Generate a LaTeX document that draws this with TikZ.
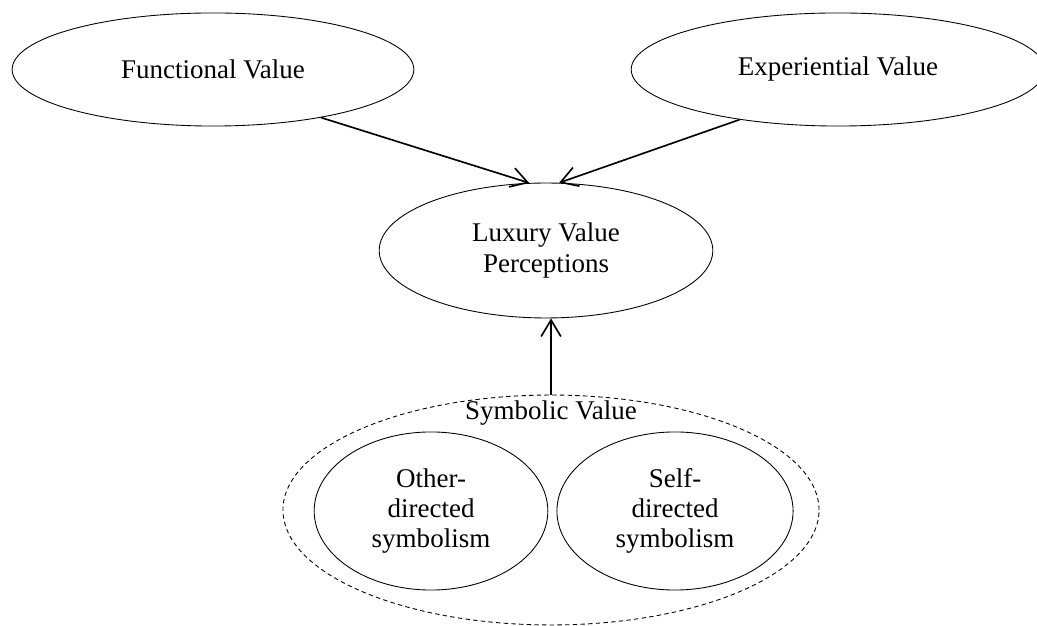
\documentclass[tikz,border=0pt]{standalone}
\usepackage{fontspec}
\setmainfont{Liberation Serif}
\usetikzlibrary{shapes.geometric,arrows.meta}
\begin{document}
\begin{tikzpicture}[x=0.016cm,y=-0.016cm,
    font=\fontsize{12.3pt}{13.8pt}\selectfont,
    construct/.style={ellipse,draw,inner sep=0pt,align=center},
    link/.style={-{Straight Barb[length=7.5pt,width=9pt]},line width=0.75pt}]
            \useasboundingbox (0,0) rectangle (1037,626);
            \node(fv)[construct,minimum width=6.43cm,minimum height=1.81cm] at (213,69.5){Functional Value};
            \node(ev)[construct,minimum width=6.62cm,minimum height=1.81cm] at (838,69.5){Experiential Value};
            \node(lvp)[construct,minimum width=5.34cm,minimum height=2.16cm] at (546,250.5){Luxury Value\\Perceptions};
            \node(sv)[construct,dash pattern=on 2pt off 1.5pt,minimum width=8.58cm,minimum height=3.68cm] at (551,510){};
            \node(svl) at (551,413){Symbolic Value};
            \node(ods)[construct,minimum width=3.74cm,minimum height=2.53cm] at (431,511){Other-\\directed\\symbolism};
            \node(sds)[construct,minimum width=3.78cm,minimum height=2.53cm] at (675,511){Self-\\directed\\symbolism};
            \draw[link] (fv.-24) -- (lvp.104);
            \draw[link] (ev.207) -- (lvp.79);
            \draw[link] (sv.north) -- (sv.north |- lvp.south);
        \end{tikzpicture}
\end{document}
